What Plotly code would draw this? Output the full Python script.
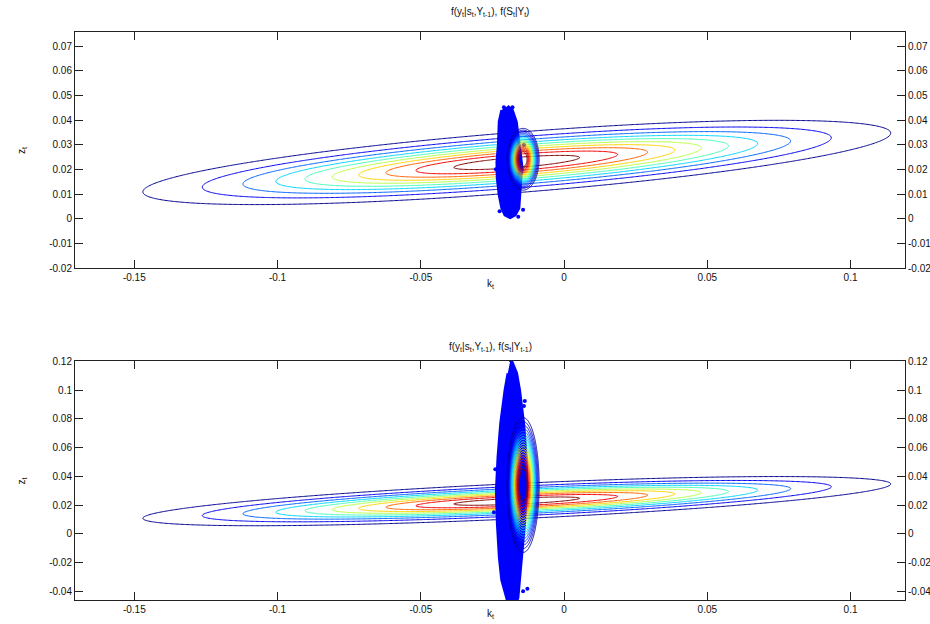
import numpy as np
import plotly.graph_objects as go

# ---------------- data ----------------
x_tick_vals = [-0.15, -0.1, -0.05, 0, 0.05, 0.1]
x_tick_text = ["-0.15", "-0.1", "-0.05", "0", "0.05", "0.1"]
top_y_tick_vals = [0.07, 0.06, 0.05, 0.04, 0.03, 0.02, 0.01, 0, -0.01, -0.02]
top_y_tick_text = ["0.07", "0.06", "0.05", "0.04", "0.03", "0.02", "0.01", "0", "-0.01", "-0.02"]
bot_y_tick_vals = [0.12, 0.1, 0.08, 0.06, 0.04, 0.02, 0, -0.02, -0.04]
bot_y_tick_text = ["0.12", "0.1", "0.08", "0.06", "0.04", "0.02", "0", "-0.02", "-0.04"]

x_range = [-0.1707, 0.119]
top_y_range = [-0.02, 0.0757]
bot_y_range = [-0.0459, 0.1202]

top_title = "f(y<sub>t</sub>|s<sub>t</sub>,Y<sub>t-1</sub>), f(S<sub>t</sub>|Y<sub>t</sub>)"
bot_title = "f(y<sub>t</sub>|s<sub>t</sub>,Y<sub>t-1</sub>), f(s<sub>t</sub>|Y<sub>t-1</sub>)"
x_label = "k<sub>t</sub>"
y_label = "z<sub>t</sub>"

# wide (likelihood) density: mean and covariance, contour levels (fraction of peak)
wide_mean = [-0.0165, 0.0228]
wide_cov = [[3.594e-3, 3.28e-4], [3.28e-4, 6.16e-5]]
wide_levels = [0.0935, 0.187, 0.2805, 0.374, 0.4675, 0.561, 0.6545, 0.748, 0.8415, 0.935]

# narrow densities (filtered / predicted): mean and std devs, contour levels
top_small_mean = [-0.0143, 0.0241]
top_small_sd = [0.00312, 0.00697]
bot_small_mean = [-0.0143, 0.034]
bot_small_sd = [0.00312, 0.0261]
small_levels = [0.2, 0.2395, 0.2789, 0.3184, 0.3579, 0.3974, 0.4368, 0.4763, 0.5158, 0.5553,
                0.5947, 0.6342, 0.6737, 0.7132, 0.7526, 0.7921, 0.8316, 0.8711, 0.9105, 0.95]

# particle cloud outlines
top_cloud_x = [-0.0197, -0.0180, -0.0166, -0.0155, -0.0148, -0.0145, -0.0150, -0.0155, -0.0157,
               -0.0170, -0.0188, -0.0207, -0.0218, -0.0227, -0.0234, -0.0235, -0.0230, -0.0227,
               -0.0218]
top_cloud_y = [0.0457, 0.0441, 0.0393, 0.0299, 0.0231, 0.0200, 0.0165, 0.0096, 0.0043,
               0.0015, 0.0003, 0.0015, 0.0043, 0.0096, 0.0165, 0.0231, 0.0299, 0.0393,
               0.0441]
top_out_x = [-0.0210, -0.0180, -0.0192, -0.0143, -0.0160, -0.0225, -0.0238, -0.0140]
top_out_y = [0.0452, 0.0452, 0.0012, 0.0036, 0.0008, 0.0030, 0.0200, 0.0300]

bot_cloud_x = [-0.0186, -0.0165, -0.01545, -0.01406, -0.01311, -0.01290, -0.01371, -0.01486,
               -0.01545, -0.01604, -0.0170, -0.0195, -0.02009, -0.02183, -0.02267, -0.02337,
               -0.02370, -0.02313, -0.02218, -0.02068, -0.01964]
bot_cloud_y = [0.1221, 0.1117, 0.0999, 0.0770, 0.0534, 0.0305, 0.0075, -0.0161,
               -0.0320, -0.0445, -0.049, -0.049, -0.0445, -0.0320, -0.0161, 0.0075,
               0.0305, 0.0534, 0.0770, 0.0999, 0.1117]
bot_out_x = [-0.0186, -0.0137, -0.0140, -0.0143, -0.0183, -0.0128, -0.0240, -0.0245]
bot_out_y = [0.1207, 0.0924, 0.0890, -0.0398, -0.0444, -0.0380, 0.0450, 0.0150]

jet = [[0.0, "rgb(0,0,143)"], [0.125, "rgb(0,0,255)"], [0.375, "rgb(0,255,255)"],
       [0.625, "rgb(255,255,0)"], [0.875, "rgb(255,0,0)"], [1.0, "rgb(128,0,0)"]]
blue = "rgb(0,0,255)"
font_name = "Liberation Sans, Arial, sans-serif"

# ---------------- helpers ----------------
def gauss_grid(mean, cov, gx, gy):
    X, Y = np.meshgrid(gx, gy)
    inv = np.linalg.inv(np.array(cov))
    dx = X - mean[0]
    dy = Y - mean[1]
    q = inv[0, 0] * dx * dx + 2 * inv[0, 1] * dx * dy + inv[1, 1] * dy * dy
    return np.exp(-0.5 * q)


def contour_trace(mean, cov, gx, gy, levels, xa, ya):
    step = levels[1] - levels[0]
    return go.Contour(
        x=gx, y=gy, z=gauss_grid(mean, cov, gx, gy),
        contours=dict(start=levels[0], end=levels[-1] + step * 0.01, size=step, coloring="lines"),
        line=dict(width=1), colorscale=jet, zauto=False, zmin=levels[0], zmax=levels[-1],
        showscale=False, hoverinfo="skip", xaxis=xa, yaxis=ya)


fig = go.Figure()

wide_gx = np.linspace(-0.175, 0.125, 700)
wide_gy = np.linspace(-0.05, 0.125, 500)
small_gx = np.linspace(-0.03, 0.0, 260)

# (x axis, base y axis, overlay y axis for the narrow density drawn above the particles)
panels = [
    ("x", "y", "y3", top_cloud_x, top_cloud_y, top_out_x, top_out_y, top_small_mean, top_small_sd),
    ("x2", "y2", "y4", bot_cloud_x, bot_cloud_y, bot_out_x, bot_out_y, bot_small_mean, bot_small_sd),
]
for xa, ya, yo, cx, cy, ox, oy, sm, ssd in panels:
    fig.add_trace(contour_trace(wide_mean, wide_cov, wide_gx, wide_gy, wide_levels, xa, ya))
    fig.add_trace(go.Scatter(x=cx, y=cy, mode="lines", fill="toself", fillcolor=blue,
                             line=dict(color=blue, width=2.5), hoverinfo="skip",
                             xaxis=xa, yaxis=ya, showlegend=False))
    fig.add_trace(go.Scatter(x=ox, y=oy, mode="markers", marker=dict(color=blue, size=4),
                             hoverinfo="skip", xaxis=xa, yaxis=ya, showlegend=False))
    small_cov = [[ssd[0] ** 2, 0.0], [0.0, ssd[1] ** 2]]
    small_gy = np.linspace(sm[1] - 3 * ssd[1], sm[1] + 3 * ssd[1], 400)
    fig.add_trace(contour_trace(sm, small_cov, small_gx, small_gy, small_levels, xa, yo))

tick_font = dict(family=font_name, size=10, color="#111")
common_x = dict(range=x_range, tickvals=x_tick_vals, ticktext=x_tick_text, ticks="inside",
                ticklen=8, tickcolor="#222", showline=True, linecolor="#222", linewidth=1,
                mirror="ticks", showgrid=False, zeroline=False, tickfont=tick_font,
                automargin=False)
common_y = dict(ticks="inside", ticklen=8, tickcolor="#222", showline=True, linecolor="#222",
                linewidth=1, mirror="ticks", showgrid=False, zeroline=False, tickfont=tick_font,
                automargin=False)

top_dom = [0.5845, 1.0]
bot_dom = [0.0, 0.4208]

fig.update_layout(
    width=930, height=624,
    margin=dict(l=75, r=25, t=32, b=24, autoexpand=False),
    paper_bgcolor="white", plot_bgcolor="white",
    showlegend=False,
    xaxis=dict(common_x, domain=[0, 1], anchor="y"),
    yaxis=dict(common_y, domain=top_dom, anchor="x", range=top_y_range,
               tickvals=top_y_tick_vals, ticktext=top_y_tick_text),
    xaxis2=dict(common_x, domain=[0, 1], anchor="y2"),
    yaxis2=dict(common_y, domain=bot_dom, anchor="x2", range=bot_y_range,
                tickvals=bot_y_tick_vals, ticktext=bot_y_tick_text),
    yaxis3=dict(common_y, overlaying="y", side="right", anchor="x", range=top_y_range,
                tickvals=top_y_tick_vals, ticktext=top_y_tick_text, mirror=False),
    yaxis4=dict(common_y, overlaying="y2", side="right", anchor="x2", range=bot_y_range,
                tickvals=bot_y_tick_vals, ticktext=bot_y_tick_text, mirror=False),
)

ann_font = dict(family=font_name, size=10, color="#111")
fig.add_annotation(text=top_title, xref="paper", yref="paper", x=0.5, y=1.035,
                   showarrow=False, font=ann_font, yanchor="middle")
fig.add_annotation(text=bot_title, xref="paper", yref="paper", x=0.5, y=0.445,
                   showarrow=False, font=ann_font, yanchor="middle")
fig.add_annotation(text=x_label, xref="paper", yref="paper", x=0.5, y=0.556,
                   showarrow=False, font=ann_font, yanchor="middle")
fig.add_annotation(text=x_label, xref="paper", yref="paper", x=0.5, y=-0.025,
                   showarrow=False, font=ann_font, yanchor="middle")
fig.add_annotation(text=y_label, xref="paper", yref="paper", x=-0.064, y=0.792,
                   showarrow=False, font=ann_font, textangle=-90, xanchor="center", yanchor="middle")
fig.add_annotation(text=y_label, xref="paper", yref="paper", x=-0.064, y=0.21,
                   showarrow=False, font=ann_font, textangle=-90, xanchor="center", yanchor="middle")

fig.write_html("out.html", config={"displayModeBar": False},
               post_script="document.body.style.margin='0px';")
